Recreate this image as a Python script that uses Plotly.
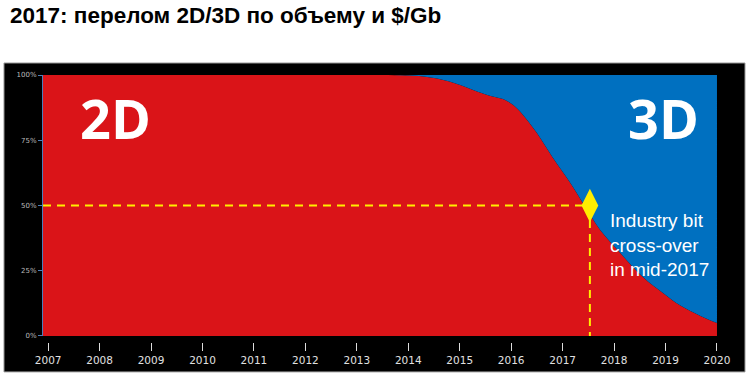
import plotly.graph_objects as go

# Data
years = [2006.9, 2013.46, 2014.3, 2014.8, 2015.26, 2015.6, 2015.84, 2016.04, 2016.23,
         2016.5, 2016.8, 2017.15, 2017.44, 2017.73, 2018.12, 2018.56, 2018.95,
         2019.28, 2019.67, 2020.0]
share_2d = [1.0, 1.0, 0.994, 0.975, 0.943, 0.92, 0.908, 0.885, 0.847,
            0.778, 0.686, 0.586, 0.494, 0.406, 0.318, 0.226, 0.165,
            0.118, 0.078, 0.05]
share_total = [1.0] * len(years)
crossover_year = [2017.53]
crossover_share = [0.5]
tick_years = list(range(2007, 2021))
y_ticks = [0, 0.25, 0.5, 0.75, 1.0]
y_tick_labels = ["0%", "25%", "50%", "75%", "100%"]

RED = "#DA1418"
BLUE = "#0070C0"
YELLOW = "#FFEE00"

fig = go.Figure()
fig.add_trace(go.Scatter(x=years, y=share_2d, mode="lines", line=dict(color=RED, width=0, shape="spline", smoothing=1.0),
                         fill="tozeroy", fillcolor=RED, hoverinfo="skip", showlegend=False))
fig.add_trace(go.Scatter(x=years, y=share_total, mode="lines", line=dict(color=BLUE, width=0),
                         fill="tonexty", fillcolor=BLUE, hoverinfo="skip", showlegend=False))

# dashed guide lines
fig.add_shape(type="line", xref="x", yref="y", x0=2006.9, x1=crossover_year[0], y0=0.5, y1=0.5,
              line=dict(color=YELLOW, width=2, dash="8px,6px"))
fig.add_shape(type="line", xref="x", yref="y", x0=crossover_year[0], x1=crossover_year[0], y0=-0.015, y1=0.5,
              line=dict(color=YELLOW, width=2, dash="8px,6px"))

fig.add_trace(go.Scatter(x=crossover_year, y=crossover_share, mode="markers",
                         marker=dict(symbol="diamond-tall", size=24, color=YELLOW, line=dict(width=0)),
                         hoverinfo="skip", showlegend=False))

# black panel
fig.add_shape(type="rect", xref="paper", yref="paper", x0=-0.0578, x1=1.04, y0=-0.112, y1=1.045,
              fillcolor="black", line=dict(color="#9a9a9a", width=1), layer="below")

fig.add_annotation(x=2008.31, y=0.835, xref="x", yref="y", text="<b>2D</b>", showarrow=False,
                   font=dict(family="Open Sans", size=54, color="white"))
fig.add_annotation(x=2018.97, y=0.835, xref="x", yref="y", text="<b>3D</b>", showarrow=False,
                   font=dict(family="Open Sans", size=54, color="white"))
fig.add_annotation(x=2017.88, y=0.349, xref="x", yref="y", text="Industry bit<br>cross-over<br>in mid-2017",
                   showarrow=False, xanchor="left", yanchor="middle", align="left",
                   font=dict(family="Liberation Sans", size=19, color="white"))

fig.add_annotation(x=-0.052, y=1.2247, xref="paper", yref="paper",
                   text="<b>2017: перелом 2D/3D по объему и $/Gb</b>", showarrow=False,
                   xanchor="left", yanchor="middle",
                   font=dict(family="Liberation Sans", size=22.5, color="black"))

fig.update_layout(
    template="none",
    width=750, height=377,
    margin=dict(l=43, r=32, t=75, b=35, autoexpand=False),
    paper_bgcolor="white", plot_bgcolor="black",
    xaxis=dict(range=[2006.9, 2020.02], tickvals=tick_years, ticktext=[str(y) for y in tick_years],
               ticks="outside", ticklen=8, tickwidth=1, tickcolor="#dddddd", automargin=False,
               showgrid=False, zeroline=False, showline=False, anchor="free", position=0,
               tickfont=dict(family="DejaVu Sans", size=10.5, color="#e0e0e0")),
    yaxis=dict(range=[0, 1], domain=[0.0225, 1], tickvals=y_ticks, ticktext=y_tick_labels,
               ticks="outside", ticklen=4, tickcolor="#4a7ebb", showline=True, linecolor="#4a7ebb",
               linewidth=1, showgrid=False, zeroline=False, automargin=False,
               tickfont=dict(family="DejaVu Sans", size=7, color="#bbbbbb")),
)

fig.write_html("out.html", config={"displayModeBar": False},
               post_script="document.body.style.margin='0';")
